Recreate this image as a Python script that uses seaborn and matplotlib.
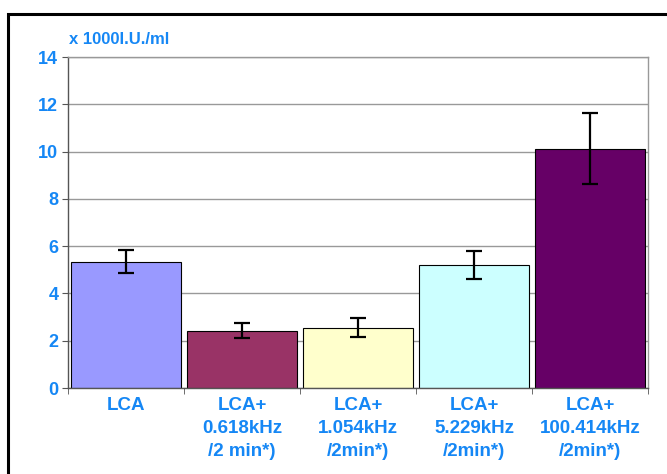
import matplotlib
matplotlib.use("Agg")
import matplotlib.pyplot as plt
import seaborn as sns
import numpy as np
from matplotlib.patches import Rectangle

# data
groups = ["LCA", "LCA+\n0.618kHz\n/2 min*)", "LCA+\n1.054kHz\n/2min*)",
          "LCA+\n5.229kHz\n/2min*)", "LCA+\n100.414kHz\n/2min*)"]
values = [5.35, 2.42, 2.55, 5.2, 10.12]
errors = [0.5, 0.32, 0.4, 0.6, 1.5]
colors = ["#9999FF", "#993366", "#FFFFCC", "#CCFFFF", "#660066"]

blue = "#1587F5"

sns.set_style("white")
plt.rcParams['font.family'] = ['Liberation Sans', 'DejaVu Sans']

fig = plt.figure(figsize=(6.67, 4.74), dpi=100)
ax = fig.add_axes([0.102, 0.1814, 0.8696, 0.6983])

sns.barplot(x=groups, y=values, hue=groups, palette=colors, legend=False,
            saturation=1, width=0.95, edgecolor="black", linewidth=0.8, ax=ax)
ax.errorbar(np.arange(len(values)), values, yerr=errors, fmt="none",
            ecolor="black", elinewidth=1.6, capsize=6, capthick=1.6)

ax.set_ylim(0, 14)
ax.set_xlim(-0.5, len(values) - 0.5)
ax.set_yticks(range(0, 15, 2))
ax.yaxis.grid(True, color="#999999", linewidth=1)
ax.set_axisbelow(True)
for s in ax.spines.values():
    s.set_color("#999999")
    s.set_linewidth(1)
ax.spines["left"].set_color("#555555")
ax.spines["bottom"].set_color("#555555")

ax.tick_params(axis="y", left=True, length=4, color="#555555",
               labelsize=13, labelcolor=blue, pad=3)
ax.tick_params(axis="x", bottom=False, labelsize=13.5, labelcolor=blue, pad=3)
ax.set_xticks(np.arange(-0.5, len(values)), minor=True)
ax.tick_params(axis="x", which="minor", bottom=True, length=4, color="#555555")
for lab in ax.get_xticklabels() + ax.get_yticklabels():
    lab.set_fontweight("bold")
for lab in ax.get_xticklabels():
    lab.set_linespacing(1.45)
ax.set_xlabel("")
ax.set_ylabel("")

fig.text(0.104, 0.916, "x 1000I.U./ml", color=blue, fontsize=12,
         fontweight="bold", ha="left", va="center")

# outer black frame
fig.patches.append(Rectangle((0.012, -0.05), 1.1, 1.02, transform=fig.transFigure,
                             fill=False, edgecolor="black", linewidth=2.2))

fig.savefig("out.png", dpi=100)
